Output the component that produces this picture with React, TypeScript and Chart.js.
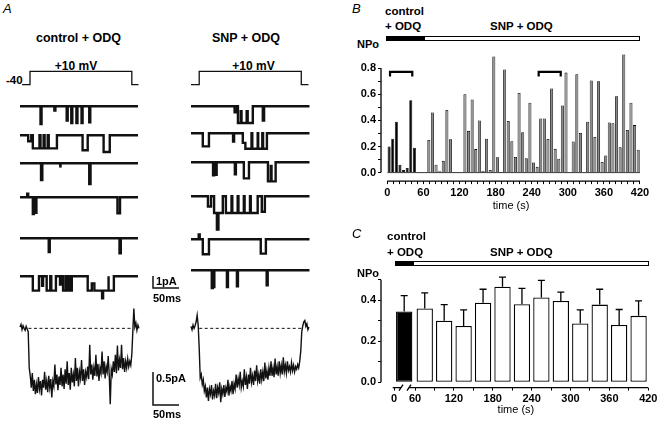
import React, { useEffect, useRef } from 'react';
import { Chart, registerables } from 'chart.js';

Chart.register(...registerables);
Chart.defaults.font.family = 'Liberation Sans, Arial, sans-serif';

// ---------------- Panel B: NPo per 6 s bin ----------------
const B_BIN_S = 6;
const B_CONTROL_END_S = 60;
const B_NPO = [
  0.20, 0.26, 0.39, 0.06, 0.02, 0.035, 0.555, 0.19, 0.005, 0.005,
  0.005, 0.25, 0.46, 0.06, 0.01, 0.09, 0.48, 0.255, 0.005, 0.005,
  0.005, 0.60, 0.32, 0.56, 0.18, 0.40, 0.013, 0.26, 0.02, 0.89,
  0.117, 0.005, 0.79, 0.395, 0.24, 0.12, 0.61, 0.31, 0.11, 0.535,
  0.077, 0.044, 0.414, 0.414, 0.258, 0.645, 0.182, 0.107, 0.514, 0.766,
  0.005, 0.238, 0.753, 0.303, 0.005, 0.39, 0.706, 0.273, 0.70, 0.082,
  0.132, 0.384, 0.379, 0.585, 0.195, 0.905, 0.326, 0.535, 0.364, 0.175,
];
const B_X_TICKS = [0, 10, 20, 30, 40, 50, 60, 70, 80, 90, 100, 110, 120, 130, 140, 150, 160, 170, 180, 190, 200, 210, 220, 230, 240, 250, 260, 270, 280, 290, 300, 310, 320, 330, 340, 350, 360, 370, 380, 390, 400, 410, 420];
const B_X_LABELS = [0, 60, 120, 180, 240, 300, 360, 420];
const B_Y_TICKS = [0, 0.1, 0.2, 0.3, 0.4, 0.5, 0.6, 0.7, 0.8];
const B_Y_LABELS = [0, 0.2, 0.4, 0.6, 0.8];
const B_BRACKETS = [[4.5, 41.5], [251.6, 288.2]]; // time windows shown in A (s)

// ---------------- Panel C: mean NPo per 30 s ----------------
const C_CONTROL_POS = 43.3; // control bar sits on the broken part of the axis
const C_TIMES = [C_CONTROL_POS, 75, 105, 135, 165, 195, 225, 255, 285, 315, 345, 375, 405];
const C_NPO = [0.345, 0.36, 0.30, 0.275, 0.388, 0.466, 0.381, 0.414, 0.397, 0.287, 0.379, 0.28, 0.324];
const C_SEM = [0.078, 0.076, 0.079, 0.078, 0.066, 0.047, 0.077, 0.083, 0.043, 0.066, 0.075, 0.075, 0.073];
const C_ZERO_POS = 27.6;
const C_X_TICKS = [C_ZERO_POS, 60, 90, 120, 150, 180, 210, 240, 270, 300, 330, 360, 390, 420];
const C_X_LABELS = [60, 120, 180, 240, 300, 360, 420];
const C_Y_TICKS = [0, 0.05, 0.1, 0.15, 0.2, 0.25, 0.3, 0.35, 0.4, 0.45, 0.5];
const C_Y_LABELS = [0, 0.2, 0.4];
const C_BREAK = [38.4, 50.7];

// ---------------- Panel A: single-channel records ----------------
// events: [start ms, end ms, amplitude pA (inward = positive here, drawn downward)]
const CTRL_T1 = [[40, 42, 1.5], [67, 69, 0.35], [91, 93, 1.2], [100, 102, 1.4], [110, 112, 1.4], [120, 122, 1.4], [135, 137, 1.35]];
const CTRL_T2 = [[16, 22, 0.5], [25, 38, 1.1], [40, 46, 1.1], [48, 54, 1.1], [56, 72, 1.1], [122, 132, 1.25], [163, 175, 1.4]];
const CTRL_T3 = [[41, 43.5, 1.4], [78, 79.5, 0.35], [135, 137.5, 1.75]];
const CTRL_T4 = [[14, 16, -0.3], [25, 27, 1.4], [30, 32, 1.3], [190, 195, 1.35]];
const CTRL_T5 = [[56, 58, 1.15], [194, 196.5, 1.25]];
const CTRL_T6 = [[25, 37, 1.2], [43, 45, 0.8], [52, 59, 1.2], [61, 70, 1.2], [78, 80, 0.7], [84, 89, 1.2], [90.5, 95, 1.2], [96.5, 101, 1.2], [132, 140, 1.2], [140, 145, 0.6], [145, 160, 1.2], [160, 162, 1.85], [162, 172, 1.2], [173, 183, 1.2]];

const SNP_T1 = [[85, 87, 0.5], [91.5, 97, 1.4], [97, 98.5, 0.4], [98.5, 108.5, 1.4], [108.5, 110.5, 0.4], [110.5, 120.5, 1.4], [140, 142.5, 1.2]];
const SNP_T2 = [[23, 35, 1.1], [82, 84, 0.7], [101, 106, 0.8], [106, 118, 1.3], [119.5, 130, 1.3], [131, 139, 1.3], [140.5, 148, 1.3]];
const SNP_T3 = [[43, 45, 1.1], [47.5, 50, 1.05], [85.5, 87.5, 1.0], [103, 113, 1.35], [150, 155.5, 1.6], [155.5, 157, 0.3], [157, 165, 1.6]];
const SNP_T4 = [[33, 39, 0.85], [45, 50.5, 1.4], [50.5, 53.5, 2.8], [53.5, 62, 1.4], [68, 79, 1.4], [80.5, 91, 1.4], [92.5, 103, 1.4], [104.5, 115, 1.4], [116.5, 130, 1.4], [138, 144, 1.3]];
const SNP_T5 = [[15, 17, -0.4], [23, 35, 1.25], [136, 146, 1.2]];
const SNP_T6 = [[40.5, 42.5, 1.5], [43.5, 45.5, 1.4], [70, 72, 1.4], [89.5, 91.5, 1.35], [147.5, 149.5, 1.25]];

const CTRL_TRACES = [CTRL_T1, CTRL_T2, CTRL_T3, CTRL_T4, CTRL_T5, CTRL_T6];
const SNP_TRACES = [SNP_T1, SNP_T2, SNP_T3, SNP_T4, SNP_T5, SNP_T6];
const CTRL_SWEEP_MS = 230;
const SNP_SWEEP_MS = 231;

// voltage protocol (ms, mV)
const V_CTRL_T = [4, 19.5, 19.5, 218, 218, 231];
const V_CTRL_MV = [-40, -40, 10, 10, -40, -40];
const V_SNP_T = [0, 16, 16, 215, 215, 229];
const V_SNP_MV = [-40, -40, 10, 10, -40, -40];

// ensemble averages (pA), sampled every 2 ms
const ENS_DT_MS = 2;
const ENS_CTRL = [
  0.02, 0.06, -0.02, 0.04, 0.0, -0.03, 0.03, -0.01, -0.05,
  -0.6, -0.72, -0.9, -0.68, -0.95, -0.78, -1.0, -0.85, -0.98, -0.74,
  -0.92, -0.8, -1.02, -0.78, -0.9, -0.66, -0.93, -0.8, -0.97, -0.72,
  -0.9, -0.77, -1.05, -0.8, -0.88, -0.55, -0.85, -0.7, -0.94, -0.73,
  -0.86, -0.6, -0.88, -0.7, -0.92, -0.62, -0.84, -0.5, -0.86, -0.68,
  -0.93, -0.6, -0.82, -0.7, -0.88, -0.45, -0.8, -0.6, -0.88, -0.66,
  -0.76, -0.48, -0.8, -0.62, -0.86, -0.66, -0.74, -0.58, -0.77, -0.25,
  -0.7, -0.55, -0.78, -0.6, -0.72, -0.4, -0.73, -0.54, -0.8, -0.6,
  -0.68, -0.35, -0.7, -0.5, -0.76, -0.58, -0.66, -0.42, -0.7, -1.15,
  -0.62, -0.7, -0.5, -0.66, -0.4, -0.68, -0.26, -0.64, -0.48, -0.6,
  -0.25, -0.62, -0.45, -0.66, -0.5, -0.6, -0.46, -0.58, -0.5, -0.56,
  -0.4, -0.05, 0.3, 0.02, 0.08, -0.03, 0.05, 0.0,
];
const ENS_SNP = [
  0.03, -0.02, 0.05, 0.0, 0.04, 0.1, 0.2, 0.05, -0.3,
  -0.75, -0.7, -0.85, -0.78, -0.95, -0.88, -1.05, -0.9, -1.1, -0.92,
  -1.0, -0.86, -1.08, -0.95, -1.02, -0.84, -1.06, -0.9, -0.98, -0.82,
  -1.12, -0.92, -1.0, -0.86, -1.04, -0.9, -0.96, -0.78, -1.02, -0.88,
  -0.95, -0.8, -1.0, -0.84, -0.92, -0.7, -0.9, -0.76, -0.86, -0.66,
  -0.9, -0.8, -0.88, -0.62, -0.86, -0.74, -0.92, -0.7, -0.84, -0.6,
  -0.82, -0.72, -0.86, -0.64, -0.8, -0.56, -0.8, -0.7, -0.84, -0.62,
  -0.78, -0.66, -0.8, -0.52, -0.76, -0.64, -0.78, -0.6, -0.72, -0.5,
  -0.72, -0.6, -0.74, -0.46, -0.7, -0.58, -0.72, -0.5, -0.68, -0.56,
  -0.7, -0.44, -0.66, -0.56, -0.68, -0.5, -0.64, -0.58, -0.66, -0.52,
  -0.64, -0.56, -0.66, -0.58, -0.62, -0.55, -0.6, -0.5, -0.35, -0.05,
  0.04, 0.1, 0.12, 0.03, 0.07, -0.02, 0.02,
];
const ENS_CTRL_PULSE = [16.5, 220];
const ENS_SNP_PULSE = [16, 216];

// ---------------- helpers ----------------
const INK = '#111';
const TICK_FONT = { family: 'Liberation Sans, Arial, sans-serif', size: 11, weight: 'bold' as const };
const TITLE_FONT = { family: 'Liberation Sans, Arial, sans-serif', size: 11 };

function stepTrace(events: number[][], tEnd: number) {
  const pts: { x: number; y: number }[] = [{ x: 0, y: 0 }];
  let prevEnd = -1;
  events.forEach(([t0, t1, a], i) => {
    if (t0 !== prevEnd) pts.push({ x: t0, y: 0 });
    pts.push({ x: t0, y: -a }, { x: t1, y: -a });
    const next = events[i + 1];
    if (!next || next[0] !== t1) pts.push({ x: t1, y: 0 });
    prevEnd = t1;
  });
  pts.push({ x: tEnd, y: 0 });
  return pts;
}

type Frame = { x0: number; y0: number; pxX: number; pxY: number; xMin: number; xMax: number; yMin: number; yMax: number };
const PAD = 3;

function TraceChart({ frame, datasets }: { frame: Frame; datasets: any[] }) {
  const ref = useRef<HTMLCanvasElement>(null);
  const w = Math.round((frame.xMax - frame.xMin) * frame.pxX + 2 * PAD);
  const h = Math.round((frame.yMax - frame.yMin) * frame.pxY + 2 * PAD);
  useEffect(() => {
    const chart = new Chart(ref.current as HTMLCanvasElement, {
      type: 'line',
      data: { datasets },
      options: {
        responsive: false,
        animation: false,
        events: [],
        layout: { padding: PAD },
        plugins: { legend: { display: false }, tooltip: { enabled: false } },
        scales: {
          x: { type: 'linear', display: false, min: frame.xMin, max: frame.xMax },
          y: { type: 'linear', display: false, min: frame.yMin, max: frame.yMax },
        },
        elements: { point: { radius: 0 }, line: { tension: 0 } },
      } as any,
    });
    return () => chart.destroy();
  }, []);
  return (
    <canvas
      ref={ref}
      width={w}
      height={h}
      style={{ position: 'absolute', left: frame.x0 + frame.xMin * frame.pxX - PAD, top: frame.y0 - frame.yMax * frame.pxY - PAD, width: w, height: h }}
    />
  );
}

function line(data: any[], width: number, dash?: number[]) {
  return { data, borderColor: INK, borderWidth: width, borderDash: dash || [], fill: false, pointRadius: 0, clip: false };
}

function Label({ x, y, text, size = 12, bold = true, italic = false, align = 'left' }: any) {
  const tx = align === 'center' ? '-50%' : align === 'right' ? '-100%' : '0';
  return (
    <div
      style={{
        position: 'absolute', left: x, top: y, transform: `translate(${tx},-50%)`, fontSize: size,
        fontWeight: bold ? 700 : 400, fontStyle: italic ? 'italic' : 'normal', whiteSpace: 'nowrap',
        lineHeight: 1, color: '#000', fontFamily: 'Liberation Sans, Arial, sans-serif',
      }}
    >
      {text}
    </div>
  );
}

// ---------------- Panel B chart ----------------
const bDecor = {
  id: 'bDecor',
  beforeDatasetsDraw(chart: any) {
    const { ctx, scales: { x, y } } = chart;
    ctx.save();
    ctx.strokeStyle = '#000';
    ctx.lineWidth = 0.8;
    ctx.beginPath();
    ctx.moveTo(x.getPixelForValue(0), y.getPixelForValue(0));
    ctx.lineTo(x.getPixelForValue(420), y.getPixelForValue(0));
    ctx.stroke();
    ctx.restore();
  },
  afterDraw(chart: any) {
    const { ctx, chartArea, scales: { x, y } } = chart;
    ctx.save();
    ctx.strokeStyle = '#000';
    ctx.lineWidth = 1.3;
    ctx.beginPath();
    ctx.moveTo(x.getPixelForValue(0), chartArea.bottom);
    ctx.lineTo(x.getPixelForValue(420), chartArea.bottom);
    ctx.moveTo(chartArea.left, y.getPixelForValue(0));
    ctx.lineTo(chartArea.left, y.getPixelForValue(0.8));
    ctx.stroke();
    ctx.lineWidth = 2.2;
    B_BRACKETS.forEach(([a, b]) => {
      const xa = x.getPixelForValue(a);
      const xb = x.getPixelForValue(b);
      const yt = y.getPixelForValue(0.771);
      const yd = y.getPixelForValue(0.736);
      ctx.beginPath();
      ctx.moveTo(xa, yd);
      ctx.lineTo(xa, yt);
      ctx.lineTo(xb, yt);
      ctx.lineTo(xb, yd);
      ctx.stroke();
    });
    ctx.restore();
  },
};

function ChartB() {
  const ref = useRef<HTMLCanvasElement>(null);
  useEffect(() => {
    const data = B_NPO.map((v, i) => ({ x: i * B_BIN_S + B_BIN_S / 2, y: v }));
    const colors = B_NPO.map((_, i) => (i * B_BIN_S < B_CONTROL_END_S ? '#000' : '#8a8a8a'));
    const chart = new Chart(ref.current as HTMLCanvasElement, {
      type: 'bar',
      data: {
        datasets: [{
          data, backgroundColor: colors, borderColor: '#000', borderWidth: 0.8,
          barPercentage: 0.84, categoryPercentage: 1, borderSkipped: 'start',
        }],
      },
      options: {
        responsive: false,
        animation: false,
        events: [],
        layout: { padding: { left: 0, right: 20.8, top: 6.6, bottom: 0 } },
        plugins: { legend: { display: false }, tooltip: { enabled: false } },
        scales: {
          x: {
            type: 'linear', min: -10.5, max: 422, offset: false,
            afterBuildTicks: (s: any) => { s.ticks = B_X_TICKS.map((v) => ({ value: v })); },
            afterFit: (s: any) => { s.height = 38.9; },
            ticks: {
              autoSkip: false, maxRotation: 0, minRotation: 0, padding: 2, color: '#000', font: TICK_FONT,
              callback: (v: any) => (B_X_LABELS.includes(v) ? String(v) : ''),
            },
            grid: { display: true, drawOnChartArea: false, drawTicks: true, tickLength: 3, color: '#000', lineWidth: 1, offset: false },
            border: { display: false },
            title: { display: true, text: 'time (s)', color: '#000', font: TITLE_FONT, padding: { top: 0, bottom: 7 } },
          },
          y: {
            type: 'linear', min: -0.065, max: 0.95,
            afterBuildTicks: (s: any) => { s.ticks = B_Y_TICKS.map((v) => ({ value: v })); },
            afterFit: (s: any) => { s.width = 51; },
            ticks: {
              padding: 2, color: '#000', font: TICK_FONT,
              callback: (v: any) => (B_Y_LABELS.includes(v) ? Number(v).toFixed(1) : ''),
            },
            grid: { display: true, drawOnChartArea: false, drawTicks: true, tickLength: 3, color: '#000', lineWidth: 1 },
            border: { display: false },
          },
        },
      } as any,
      plugins: [bDecor],
    });
    return () => chart.destroy();
  }, []);
  return <canvas ref={ref} width={332} height={180} style={{ position: 'absolute', left: 330, top: 40, width: 332, height: 180 }} />;
}

// ---------------- Panel C chart ----------------
const cDecor = {
  id: 'cDecor',
  afterDatasetsDraw(chart: any) {
    const { ctx, scales: { x, y } } = chart;
    ctx.save();
    ctx.strokeStyle = '#000';
    ctx.lineWidth = 1.3;
    C_TIMES.forEach((t, i) => {
      const px = x.getPixelForValue(t);
      const y0 = y.getPixelForValue(C_NPO[i]);
      const y1 = y.getPixelForValue(C_NPO[i] + C_SEM[i]);
      ctx.beginPath();
      ctx.moveTo(px, y0);
      ctx.lineTo(px, y1);
      ctx.moveTo(px - 3.5, y1);
      ctx.lineTo(px + 3.5, y1);
      ctx.stroke();
    });
    ctx.restore();
  },
  afterDraw(chart: any) {
    const { ctx, chartArea, scales: { x, y } } = chart;
    const yb = chartArea.bottom;
    const b0 = x.getPixelForValue(C_BREAK[0]);
    const b1 = x.getPixelForValue(C_BREAK[1]);
    ctx.save();
    ctx.strokeStyle = '#000';
    ctx.lineWidth = 1.3;
    ctx.beginPath();
    ctx.moveTo(x.getPixelForValue(25.6), yb);
    ctx.lineTo(b0, yb);
    ctx.moveTo(b1, yb);
    ctx.lineTo(x.getPixelForValue(420), yb);
    ctx.moveTo(b0 - 2, yb + 3);
    ctx.lineTo(b0 + 2, yb - 3);
    ctx.moveTo(b1 - 2, yb + 3);
    ctx.lineTo(b1 + 2, yb - 3);
    ctx.moveTo(chartArea.left, y.getPixelForValue(0));
    ctx.lineTo(chartArea.left, y.getPixelForValue(0.5));
    ctx.stroke();
    ctx.restore();
  },
};

function ChartC() {
  const ref = useRef<HTMLCanvasElement>(null);
  useEffect(() => {
    const data = C_TIMES.map((t, i) => ({ x: t, y: C_NPO[i] }));
    const chart = new Chart(ref.current as HTMLCanvasElement, {
      type: 'bar',
      data: {
        datasets: [{
          data, backgroundColor: C_NPO.map((_, i) => (i === 0 ? '#000' : '#fff')), borderColor: '#000',
          borderWidth: 1.3, barPercentage: 0.84, categoryPercentage: 1, borderSkipped: false,
        }],
      },
      options: {
        responsive: false,
        animation: false,
        events: [],
        layout: { padding: { left: 0, right: 11.1, top: 8.65, bottom: 0 } },
        plugins: { legend: { display: false }, tooltip: { enabled: false } },
        scales: {
          x: {
            type: 'linear', min: 7.5, max: 424, offset: false,
            afterBuildTicks: (s: any) => { s.ticks = C_X_TICKS.map((v) => ({ value: v })); },
            afterFit: (s: any) => { s.height = 35.4; },
            ticks: {
              autoSkip: false, maxRotation: 0, minRotation: 0, padding: 2, color: '#000', font: TICK_FONT,
              callback: (v: any) => (v === C_ZERO_POS ? '0' : C_X_LABELS.includes(v) ? String(v) : ''),
            },
            grid: { display: true, drawOnChartArea: false, drawTicks: true, tickLength: 3, color: '#000', lineWidth: 1, offset: false },
            border: { display: false },
            title: { display: true, text: 'time (s)', color: '#000', font: TITLE_FONT, padding: { top: 0, bottom: 6.4 } },
          },
          y: {
            type: 'linear', min: -0.026, max: 0.53,
            afterBuildTicks: (s: any) => { s.ticks = C_Y_TICKS.map((v) => ({ value: v })); },
            afterFit: (s: any) => { s.width = 51; },
            ticks: {
              padding: 2, color: '#000', font: TICK_FONT,
              callback: (v: any) => (C_Y_LABELS.includes(v) ? Number(v).toFixed(1) : ''),
            },
            grid: { display: true, drawOnChartArea: false, drawTicks: true, tickLength: 3, color: '#000', lineWidth: 1 },
            border: { display: false },
          },
        },
      } as any,
      plugins: [cDecor],
    });
    return () => chart.destroy();
  }, []);
  return <canvas ref={ref} width={332} height={158} style={{ position: 'absolute', left: 330, top: 265, width: 332, height: 158 }} />;
}

// ---------------- Panel A column ----------------
const PX_PER_MS = 0.514;

function Column({ x0, rows, traces, sweep, vT, vMV, ens, pulse }: any) {
  const vData = vT.map((t: number, i: number) => ({ x: t, y: vMV[i] }));
  const ensData = ens.map((v: number, i: number) => ({ x: i * ENS_DT_MS, y: v }));
  return (
    <>
      <TraceChart
        frame={{ x0, y0: 73.6, pxX: PX_PER_MS, pxY: 0.26, xMin: 0, xMax: 232, yMin: -45, yMax: 15 }}
        datasets={[line(vData, 1.3)]}
      />
      {traces.map((ev: number[][], k: number) => (
        <TraceChart
          key={k}
          frame={{ x0, y0: rows[k], pxX: PX_PER_MS, pxY: 12, xMin: 0, xMax: 232, yMin: -3, yMax: 0.7 }}
          datasets={[line(stepTrace(ev, sweep), 2.4)]}
        />
      ))}
      <TraceChart
        frame={{ x0, y0: 328, pxX: PX_PER_MS, pxY: 66, xMin: 0, xMax: 234, yMin: -1.3, yMax: 0.4 }}
        datasets={[
          line([{ x: pulse[0], y: 0 }, { x: pulse[1], y: 0 }], 1, [3, 2.5]),
          line(ensData, 1.4),
        ]}
      />
    </>
  );
}

export default function App() {
  return (
    <div style={{ position: 'fixed', left: 0, top: 0, width: 662, height: 423, background: '#fff', overflow: 'hidden' }}>
      {/* Panel A */}
      <Label x={3} y={8} text="A" size={13} bold={false} italic />
      <Label x={78.5} y={37.5} text="control + ODQ" size={12.5} align="center" />
      <Label x={246} y={37.5} text="SNP + ODQ" size={12.5} align="center" />
      <Label x={76} y={66} text="+10 mV" size={12} align="center" />
      <Label x={253.5} y={66} text="+10 mV" size={12} align="center" />
      <Label x={6} y={80.5} text="-40" size={11.5} />
      <Column x0={20} rows={[106, 135, 163, 197, 238, 276]} traces={CTRL_TRACES} sweep={CTRL_SWEEP_MS}
        vT={V_CTRL_T} vMV={V_CTRL_MV} ens={ENS_CTRL} pulse={ENS_CTRL_PULSE} />
      <Column x0={191} rows={[106, 133, 162, 196, 239, 270]} traces={SNP_TRACES} sweep={SNP_SWEEP_MS}
        vT={V_SNP_T} vMV={V_SNP_MV} ens={ENS_SNP} pulse={ENS_SNP_PULSE} />
      {/* scale bars */}
      <TraceChart
        frame={{ x0: 153, y0: 288, pxX: PX_PER_MS, pxY: 12, xMin: 0, xMax: 50, yMin: 0, yMax: 1 }}
        datasets={[line([{ x: 0, y: 1 }, { x: 0, y: 0 }, { x: 50, y: 0 }], 1.5)]}
      />
      <TraceChart
        frame={{ x0: 153, y0: 405, pxX: PX_PER_MS, pxY: 66, xMin: 0, xMax: 50, yMin: 0, yMax: 0.5 }}
        datasets={[line([{ x: 0, y: 0.5 }, { x: 0, y: 0 }, { x: 50, y: 0 }], 1.5)]}
      />
      <Label x={156} y={281} text="1pA" size={11} />
      <Label x={153} y={298} text="50ms" size={11} />
      <Label x={156} y={377.5} text="0.5pA" size={11} />
      <Label x={153} y={414} text="50ms" size={11} />

      {/* Panel B */}
      <Label x={352} y={8} text="B" size={13} bold={false} italic />
      <Label x={385} y={12} text="control" size={11.5} />
      <Label x={385} y={27} text="+ ODQ" size={11.5} />
      <Label x={490} y={27} text="SNP + ODQ" size={11.5} />
      <div style={{ position: 'absolute', left: 386, top: 36, width: 254, height: 5, boxSizing: 'border-box', border: '1px solid #000', background: '#fff' }}>
        <div style={{ position: 'absolute', left: 0, top: 0, width: 38, height: '100%', background: '#000' }} />
      </div>
      <Label x={357} y={44} text="NPo" size={11} />
      <ChartB />

      {/* Panel C */}
      <Label x={352} y={233} text="C" size={13} bold={false} italic />
      <Label x={387} y={236.5} text="control" size={11.5} />
      <Label x={387} y={252.5} text="+ ODQ" size={11.5} />
      <Label x={490} y={252.5} text="SNP + ODQ" size={11.5} />
      <div style={{ position: 'absolute', left: 395, top: 261, width: 254, height: 5, boxSizing: 'border-box', border: '1px solid #000', background: '#fff' }}>
        <div style={{ position: 'absolute', left: 0, top: 0, width: 18, height: '100%', background: '#000' }} />
      </div>
      <Label x={357} y={273} text="NPo" size={11} />
      <ChartC />
    </div>
  );
}
